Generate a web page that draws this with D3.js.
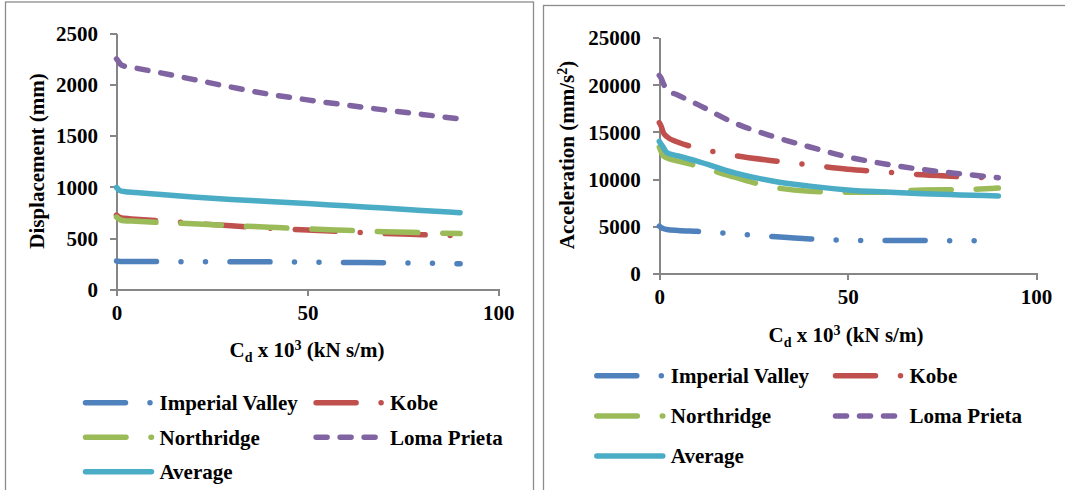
<!DOCTYPE html>
<html>
<head>
<meta charset="utf-8">
<script src="https://cdn.jsdelivr.net/npm/d3@7"></script>
<style>
  html, body { margin: 0; padding: 0; background: #ffffff; }
  svg { display: block; }
</style>
</head>
<body>
<svg id="chart" width="1065" height="490"></svg>
<script>
// Damping coefficient Cd (x 10^3 kN s/m)
const cdValues = [0, 0.5, 1, 2, 5, 10, 20, 30, 40, 50, 60, 70, 80, 90];

const seriesNames = ["Imperial Valley", "Kobe", "Northridge", "Loma Prieta", "Average"];

// Peak displacement (mm)
const dispImperial   = [275, 273, 272, 271, 271, 271, 270, 270, 268, 265, 262, 259, 255, 250];
const dispKobe       = [725, 710, 700, 693, 685, 672, 645, 620, 598, 578, 562, 545, 533, 522];
const dispNorthridge = [705, 690, 678, 670, 665, 655, 640, 622, 606, 590, 576, 563, 553, 544];
const dispLoma       = [2250, 2225, 2200, 2180, 2160, 2125, 2050, 1975, 1905, 1850, 1800, 1752, 1708, 1663];
const dispAverage    = [995, 975, 962, 955, 945, 930, 902, 878, 858, 838, 815, 793, 770, 748];

// Peak acceleration (mm/s^2)
const accImperial   = [5000, 4850, 4750, 4650, 4550, 4450, 4200, 3900, 3650, 3500, 3480, 3470, 3450, 3450];
const accKobe       = [16000, 15600, 15000, 14500, 13900, 13300, 12500, 11950, 11500, 11050, 10750, 10450, 10250, 10100];
const accNorthridge = [13400, 12900, 12500, 12250, 11900, 11400, 10200, 9150, 8700, 8600, 8600, 8850, 8880, 9050];
const accLoma       = [21000, 20700, 20200, 19500, 18900, 17950, 15950, 14550, 13400, 12350, 11600, 11000, 10550, 10150];
const accAverage    = [14000, 13700, 13400, 12800, 12450, 11900, 10650, 9800, 9250, 8850, 8620, 8450, 8320, 8200];

const dispTicks = [0, 500, 1000, 1500, 2000, 2500];
const accTicks  = [0, 5000, 10000, 15000, 20000, 25000];
const cdTicks   = [0, 50, 100];

// Line styling per series (Office palette, long-dash-dot-dot / long-dash-dot / long-dash / dash / solid)
const seriesStyle = {
  "Imperial Valley": { color: "#4F81BD", dash: "40 24.5 0 24.5 0 24.5" },
  "Kobe":            { color: "#C0504D", dash: "40 25 0 25" },
  "Northridge":      { color: "#9BBB59", dash: "40.5 25" },
  "Loma Prieta":     { color: "#8064A2", dash: "11 13" },
  "Average":         { color: "#4BACC6", dash: null }
};

const FONT = "Liberation Serif";
const svg = d3.select("#chart");
const LW = 5.5;

// bold serif text helper
function styleText(sel, size) {
  return sel.attr("font-family", FONT).attr("font-weight", "bold")
    .attr("font-size", size).attr("fill", "#000");
}

function drawPanel(cfg) {
  const g = svg.append("g");

  // chart-area frame
  g.append("rect")
    .attr("x", cfg.frame[0]).attr("y", cfg.frame[1])
    .attr("width", cfg.frame[2]).attr("height", cfg.frame[3])
    .attr("fill", "#fff").attr("stroke", "#8c8c8c").attr("stroke-width", 1.3);

  const x = d3.scaleLinear().domain([0, 100]).range(cfg.xRange);
  const y = d3.scaleLinear().domain([cfg.yTicks[0], cfg.yTicks[cfg.yTicks.length - 1]]).range(cfg.yRange);

  // y axis
  const yAxis = g.append("g")
    .attr("transform", `translate(${cfg.xRange[0]},0)`)
    .call(d3.axisLeft(y).tickValues(cfg.yTicks).tickFormat(d3.format("d"))
      .tickSize(6.5).tickSizeOuter(0).tickPadding(12));
  yAxis.attr("font-family", FONT).attr("font-size", 21);
  yAxis.select(".domain").attr("stroke", "#868686").attr("stroke-width", 2);
  yAxis.selectAll(".tick line").attr("stroke", "#868686").attr("stroke-width", 2);
  styleText(yAxis.selectAll(".tick text").attr("dy", null).attr("y", 7.2), 21);

  // x axis
  const xAxis = g.append("g")
    .attr("transform", `translate(0,${cfg.yRange[0]})`)
    .call(d3.axisBottom(x).tickValues(cdTicks).tickFormat(d3.format("d"))
      .tickSize(6.5).tickSizeOuter(0).tickPadding(12));
  xAxis.attr("font-family", FONT).attr("font-size", 21);
  xAxis.select(".domain").attr("stroke", "#868686").attr("stroke-width", 2);
  xAxis.selectAll(".tick line").attr("stroke", "#868686").attr("stroke-width", 2);
  styleText(xAxis.selectAll(".tick text").attr("dy", null).attr("y", 30.5), 21);
  g.selectAll(".domain, .tick line").attr("shape-rendering", "crispEdges");

  // series lines
  const line = d3.line()
    .x((d, i) => x(cdValues[i]))
    .y(d => y(d))
    .curve(d3.curveMonotoneX);

  seriesNames.forEach((name, k) => {
    const st = seriesStyle[name];
    g.append("path")
      .datum(cfg.values[k])
      .attr("d", line)
      .attr("fill", "none")
      .attr("stroke", st.color)
      .attr("stroke-width", LW)
      .attr("stroke-linecap", "round")
      .attr("stroke-linejoin", "round")
      .attr("stroke-dasharray", st.dash);
  });

  // y title
  const yt = styleText(g.append("text"), 21)
    .attr("transform", `translate(${cfg.yTitlePos[0]},${cfg.yTitlePos[1]}) rotate(-90)`)
    .attr("text-anchor", "middle");
  cfg.yTitle(yt);

  // x title: C_d x 10^3 (kN s/m)
  const xt = styleText(g.append("text"), 21)
    .attr("x", cfg.xTitlePos[0]).attr("y", cfg.xTitlePos[1])
    .attr("text-anchor", "middle");
  xt.append("tspan").text("C");
  xt.append("tspan").attr("dy", 5).attr("font-size", 14).text("d");
  xt.append("tspan").attr("dy", -5).text(" x 10");
  xt.append("tspan").attr("dy", -7).attr("font-size", 14).text("3");
  xt.append("tspan").attr("dy", 7).text(" (kN s/m)");

  // legend
  const lg = g.append("g");
  const slots = [[0, 0], [1, 0], [0, 1], [1, 1], [0, 2]];
  seriesNames.forEach((name, k) => {
    const st = seriesStyle[name];
    const [c, r] = slots[k];
    const lx = cfg.legendX + c * cfg.legendColGap;
    const ly = cfg.legendY + r * cfg.legendRowGap;
    lg.append("line")
      .attr("x1", lx + 2.8).attr("x2", lx + 68.8)
      .attr("y1", ly).attr("y2", ly)
      .attr("stroke", st.color)
      .attr("stroke-width", LW)
      .attr("stroke-linecap", "round")
      .attr("stroke-dasharray", st.dash);
    styleText(lg.append("text"), 21)
      .attr("x", lx + 76.8).attr("y", ly + 7.3)
      .text(name);
  });
}

drawPanel({
  frame: [5.5, 2, 528, 520],
  xRange: [116.5, 498.3],
  yRange: [289.3, 33.3],
  yTicks: dispTicks,
  values: [dispImperial, dispKobe, dispNorthridge, dispLoma, dispAverage],
  yTitle: t => t.text("Displacement (mm)"),
  yTitlePos: [44, 161],
  xTitlePos: [307, 357],
  legendX: 82.7, legendY: 402.7, legendColGap: 230.6, legendRowGap: 34.5
});

drawPanel({
  frame: [543.5, 5.5, 540, 520],
  xRange: [659.3, 1036],
  yRange: [273.3, 37.7],
  yTicks: accTicks,
  values: [accImperial, accKobe, accNorthridge, accLoma, accAverage],
  yTitle: t => {
    t.append("tspan").text("Acceleration (mm/s");
    t.append("tspan").attr("dy", -7).attr("font-size", 14).text("2");
    t.append("tspan").attr("dy", 7).text(")");
  },
  yTitlePos: [574.3, 155],
  xTitlePos: [846, 342],
  legendX: 594, legendY: 375.7, legendColGap: 238.7, legendRowGap: 40.2
});
</script>
</body>
</html>
